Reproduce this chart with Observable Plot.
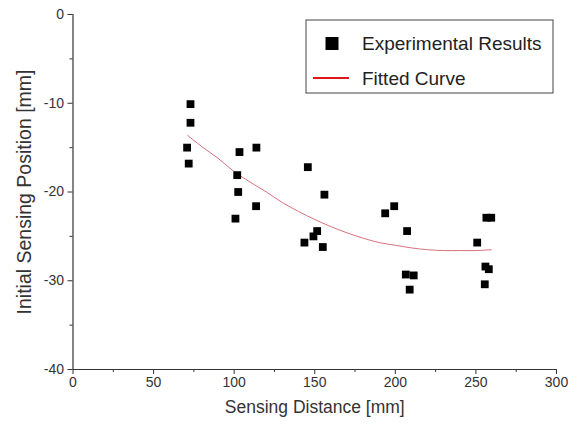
<!DOCTYPE html>
<html><head><meta charset="utf-8">
<script src="https://cdn.jsdelivr.net/npm/d3@7"></script>
<script src="https://cdn.jsdelivr.net/npm/@observablehq/plot@0.6"></script>
<style>body{margin:0;background:#fff} #chart{width:578px;height:427px}</style>
</head><body><div id="chart"></div>
<script>
// Experimental results
const distance = [72.9, 72.9, 70.8, 71.8, 103.3, 101.9, 102.5, 100.8, 113.8, 113.6,
  145.7, 156.0, 151.5, 149.2, 143.6, 155.0,
  193.7, 199.3, 207.3, 206.5, 211.4, 208.9,
  250.8, 256.5, 259.5, 255.9, 258.0, 255.5];
const position = [-10.1, -12.2, -15.0, -16.8, -15.5, -18.1, -20.0, -23.0, -15.0, -21.6,
  -17.2, -20.3, -24.4, -25.0, -25.7, -26.2,
  -22.4, -21.6, -24.4, -29.3, -29.4, -31.0,
  -25.7, -22.9, -22.9, -28.4, -28.7, -30.4];
// Fitted curve
const fitDistance = [71, 80, 90, 100, 110, 120, 130, 140, 150, 160, 170, 180, 190, 200, 210, 220, 230, 240, 250, 259.6];
const fitPosition = [-13.6, -14.9, -16.2, -17.7, -18.9, -20.0, -21.2, -22.2, -23.1, -23.9, -24.6, -25.2, -25.7, -26.0, -26.3, -26.5, -26.6, -26.6, -26.6, -26.5];
// Ticks and labels
const xTicks = [0, 50, 100, 150, 200, 250, 300];
const xMinorTicks = [25, 75, 125, 175, 225, 275];
const yTicks = [0, -10, -20, -30, -40];
const yMinorTicks = [-5, -15, -25, -35];
const legendLabels = ["Experimental Results", "Fitted Curve"];
const xTitle = "Sensing Distance [mm]";
const yTitle = "Initial Sensing Position [mm]";

const points = distance.map((d, i) => ({x: d, y: position[i]}));
const fit = fitDistance.map((d, i) => ({x: d, y: fitPosition[i]}));

const font = "'Liberation Sans', Arial, sans-serif";
const plain = d => String(d);
const plot = Plot.plot({
  width: 578, height: 427,
  marginLeft: 72.5, marginRight: 22, marginTop: 14, marginBottom: 58,
  x: {domain: [0, 300]},
  y: {domain: [-40, 0]},
  style: {fontFamily: font, fontSize: "14px", color: "#333", background: "#fff"},
  marks: [
    Plot.axisX({ticks: xTicks, tickSize: 5, tickPadding: 3, tickFormat: plain, label: null, fontSize: 14}),
    Plot.axisX({ticks: xMinorTicks, tickSize: 3, tickFormat: () => "", label: null}),
    Plot.axisY({ticks: yTicks, tickSize: 5, tickPadding: 4, tickFormat: plain, label: null, fontSize: 14}),
    Plot.axisY({ticks: yMinorTicks, tickSize: 3, tickFormat: () => "", label: null}),
    Plot.ruleX([0], {stroke: "#333", strokeWidth: 1.2}),
    Plot.ruleY([-40], {stroke: "#333", strokeWidth: 1.2}),
    Plot.line(fit, {x: "x", y: "y", stroke: "#d9707e", strokeWidth: 1, curve: "catmull-rom"}),
    Plot.dot(points, {x: "x", y: "y", symbol: "square", r: 4.4, fill: "#000", stroke: "none"}),
    Plot.text([xTitle], {text: d => d, frameAnchor: "bottom", textAnchor: "middle", dy: 43, fontSize: 17.5, fill: "#333"}),
    Plot.text([yTitle], {text: d => d, frameAnchor: "left", textAnchor: "middle", dx: -48, rotate: -90, fontSize: 19.5, fill: "#333"})
  ]
});

// Legend
const svg = d3.select(plot);
const lg = svg.append("g").attr("font-family", font).attr("font-size", 19).attr("fill", "#222").attr("text-anchor", "start");
lg.append("rect").attr("x", 306).attr("y", 20).attr("width", 247).attr("height", 73)
  .attr("fill", "#fff").attr("stroke", "#444").attr("stroke-width", 1);
lg.append("rect").attr("x", 325.5).attr("y", 37).attr("width", 13).attr("height", 13).attr("fill", "#000");
lg.append("text").attr("x", 362).attr("y", 50).text(legendLabels[0]);
lg.append("line").attr("x1", 313).attr("x2", 349).attr("y1", 78).attr("y2", 78)
  .attr("stroke", "#e01818").attr("stroke-width", 2);
lg.append("text").attr("x", 362).attr("y", 84.5).text(legendLabels[1]);

document.getElementById("chart").appendChild(plot);
</script>
</body></html>
